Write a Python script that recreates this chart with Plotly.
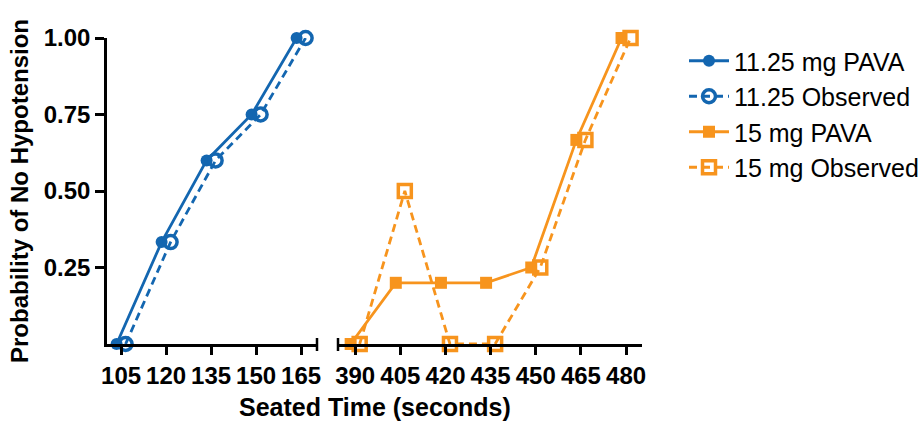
import plotly.graph_objects as go

# ---- data ----
time_11 = [105, 120, 135, 150, 165]
pava_11 = [0.0, 0.333, 0.60, 0.75, 1.00]
obs_11 = [0.0, 0.333, 0.60, 0.75, 1.00]

time_15 = [390, 405, 420, 435, 450, 465, 480]
pava_15 = [0.0, 0.20, 0.20, 0.20, 0.25, 0.667, 1.00]
obs_15 = [0.0, 0.50, 0.0, 0.0, 0.25, 0.667, 1.00]

xticks_left = [105, 120, 135, 150, 165]
xticks_right = [390, 405, 420, 435, 450, 465, 480]
yticks = [0.25, 0.50, 0.75, 1.00]
ytick_text = ["0.25", "0.50", "0.75", "1.00"]

BLUE = "#1366b0"
ORANGE = "#f7941d"
FONT = "Arial, Liberation Sans, sans-serif"
nudge = 1.5

W, H = 921, 421
# pixel layout
lx0, lx1 = 107, 317
rx0, rx1 = 338, 642
ytop, ybot = 38, 344

fig = go.Figure()

fig.add_trace(go.Scatter(
    x=[t - nudge for t in time_11], y=pava_11, name="11.25 mg PAVA",
    mode="lines+markers", line=dict(color=BLUE, width=2.8),
    marker=dict(symbol="circle", size=12, color=BLUE),
    xaxis="x", yaxis="y", cliponaxis=False, legendgroup="a"))
fig.add_trace(go.Scatter(
    x=[t + nudge for t in time_11], y=obs_11, name="11.25 Observed",
    mode="lines+markers", line=dict(color=BLUE, width=2.8, dash="8px,5px"),
    marker=dict(symbol="circle-open", size=13, color=BLUE, line=dict(width=3.5, color=BLUE)),
    xaxis="x", yaxis="y", cliponaxis=False, legendgroup="b"))
fig.add_trace(go.Scatter(
    x=[t - nudge for t in time_15], y=pava_15, name="15 mg PAVA",
    mode="lines+markers", line=dict(color=ORANGE, width=2.8),
    marker=dict(symbol="square", size=12, color=ORANGE),
    xaxis="x2", yaxis="y2", cliponaxis=False, legendgroup="c"))
fig.add_trace(go.Scatter(
    x=[t + nudge for t in time_15], y=obs_15, name="15 mg Observed",
    mode="lines+markers", line=dict(color=ORANGE, width=2.8, dash="8px,5px"),
    marker=dict(symbol="square-open", size=13, color=ORANGE, line=dict(width=3.5, color=ORANGE)),
    xaxis="x2", yaxis="y2", cliponaxis=False, legendgroup="d"))

ydom = [(H - ybot) / H, (H - ytop) / H]
tickfont = dict(family=FONT, size=24, color="black", weight="bold")

common_x = dict(showline=True, linecolor="black", linewidth=2.5, ticks="outside",
                ticklen=8, tickwidth=2.5, tickcolor="black", showgrid=False,
                zeroline=False, tickfont=tickfont, automargin=False, fixedrange=True)

fig.update_layout(
    width=W, height=H, margin=dict(l=0, r=0, t=0, b=0, autoexpand=False),
    paper_bgcolor="white", plot_bgcolor="white",
    font=dict(family=FONT, color="black"),
    xaxis=dict(domain=[lx0 / W, lx1 / W], range=[100.3, 170.3],
               tickvals=xticks_left, anchor="y", **common_x),
    xaxis2=dict(domain=[rx0 / W, rx1 / W], range=[384.3, 485.3],
                tickvals=xticks_right, anchor="y2", **common_x),
    yaxis=dict(domain=ydom, range=[0, 1], tickvals=yticks, ticktext=ytick_text,
               showline=True, linecolor="black", linewidth=2.5, ticks="outside",
               ticklen=9, tickwidth=2.5, tickcolor="black", showgrid=False,
               zeroline=False, tickfont=tickfont, automargin=False,
               title=dict(text="Probability of No Hypotension",
                          font=dict(family=FONT, size=24, color="black", weight="bold"),
                          standoff=9),
               anchor="x", fixedrange=True),
    yaxis2=dict(domain=ydom, range=[0, 1], visible=False, anchor="x2", fixedrange=True),
    legend=dict(x=684 / W, y=1 - 38 / H, xanchor="left", yanchor="top",
                font=dict(family=FONT, size=25, color="black"),
                tracegroupgap=0, bgcolor="rgba(0,0,0,0)", itemwidth=40),
    showlegend=True,
)

fig.add_annotation(
    text="<b>Seated Time (seconds)</b>", xref="paper", yref="paper",
    x=((lx0 + rx1) / 2) / W, y=1 - 407 / H, xanchor="center", yanchor="middle",
    showarrow=False, font=dict(family=FONT, size=25, color="black"))

# axis break marks
for px in (lx1, rx0):
    fig.add_shape(type="line", xref="paper", yref="paper",
                  x0=px / W, x1=px / W, y0=1 - (ybot - 6) / H, y1=1 - (ybot + 7) / H,
                  line=dict(color="black", width=2.5))

fig.write_html("out.html")
